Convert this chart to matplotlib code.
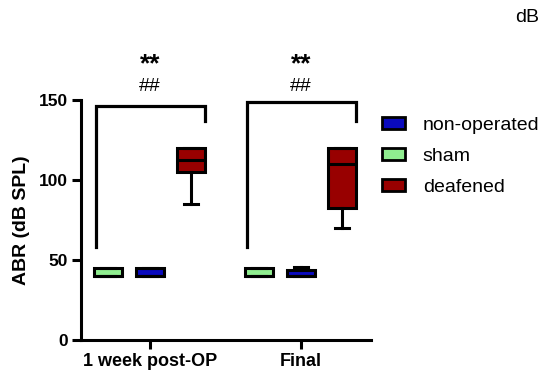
import matplotlib
matplotlib.use("Agg")
import matplotlib.pyplot as plt
from matplotlib.patches import Patch

plt.rcParams["font.family"] = ["Liberation Sans", "DejaVu Sans"]

# ABR thresholds (dB SPL) summarised as box statistics per group and time point
timepoints = ["1 week post-OP", "Final"]
groups = ["sham", "non-operated", "deafened"]
colors = {"sham": "#90ee90", "non-operated": "#0a0abe", "deafened": "#980000"}
legend_order = ["non-operated", "sham", "deafened"]

# each entry: [whisker low, q1, median, q3, whisker high]
sham_stats = [[40, 40, 40, 45, 45], [40, 40, 40, 45, 45]]
nonop_stats = [[40, 40, 40, 45, 45], [40, 40, 40, 43.5, 45.5]]
deaf_stats = [[85, 105, 112.5, 120, 120], [70, 82.7, 110, 120, 120]]
stats_by_group = {"sham": sham_stats, "non-operated": nonop_stats, "deafened": deaf_stats}

# significance brackets: [left end, top, right end] heights
bracket_left_y = [58, 58]
bracket_top_y = [146, 149]
bracket_right_y = [137, 137]
stars_text = ["**", "**"]
hash_text = ["##", "##"]

offsets = {"sham": -0.278, "non-operated": 0.0, "deafened": 0.272}
box_w = 0.18

fig = plt.figure(figsize=(5.39, 3.76), dpi=100)
ax = fig.add_axes([81 / 539, 1 - 340 / 376, (371 - 81) / 539, 240 / 376])

for g in groups:
    for i, s in enumerate(stats_by_group[g]):
        lo, q1, med, q3, hi = s
        st = dict(whislo=lo, q1=q1, med=med, q3=q3, whishi=hi, fliers=[])
        ax.bxp([st], positions=[i + offsets[g]], widths=box_w, patch_artist=True,
               showfliers=False, capwidths=[box_w * 0.5],
               boxprops=dict(facecolor=colors[g], edgecolor="black", linewidth=2.2),
               medianprops=dict(color="black", linewidth=2.2),
               whiskerprops=dict(color="black", linewidth=2.2),
               capprops=dict(color="black", linewidth=2.2))

for i in range(len(timepoints)):
    xl, xr = i - 0.357, i + 0.365
    ax.plot([xl, xl, xr, xr],
            [bracket_left_y[i], bracket_top_y[i], bracket_top_y[i], bracket_right_y[i]],
            color="black", lw=2.3, clip_on=False, solid_joinstyle="miter")
    ax.text(i, 172.5, stars_text[i], ha="center", va="center",
            fontsize=19, fontweight="bold", clip_on=False)
    ax.text(i, 158.5, hash_text[i], ha="center", va="center",
            fontsize=14, clip_on=False)

ax.set_xlim(-0.457, 1.464)
ax.set_ylim(0, 150)
ax.set_xticks(range(len(timepoints)))
ax.set_xticklabels(timepoints, fontsize=13, fontweight="bold")
ax.set_yticks([0, 50, 100, 150])
ax.set_yticklabels(["0", "50", "100", "150"], fontsize=12.5, fontweight="bold")
ax.set_ylabel("ABR (dB SPL)", fontsize=14, fontweight="bold", labelpad=6)
for side in ["top", "right"]:
    ax.spines[side].set_visible(False)
for side in ["left", "bottom"]:
    ax.spines[side].set_linewidth(2.2)
ax.tick_params(axis="both", width=2.2, length=6.5, pad=3)

handles = [Patch(facecolor=colors[g], edgecolor="black", linewidth=2) for g in legend_order]
fig.legend(handles, legend_order, loc="upper left",
           bbox_to_anchor=(382 / 539, 1 - 117 / 376), frameon=False,
           fontsize=14, handlelength=1.2, handleheight=0.6,
           handletextpad=0.9, labelspacing=0.72, borderpad=0, borderaxespad=0)

fig.text(515 / 539, 1 - 18 / 376, "dB", fontsize=14, ha="left", va="center")

fig.savefig("out.png", dpi=100)
